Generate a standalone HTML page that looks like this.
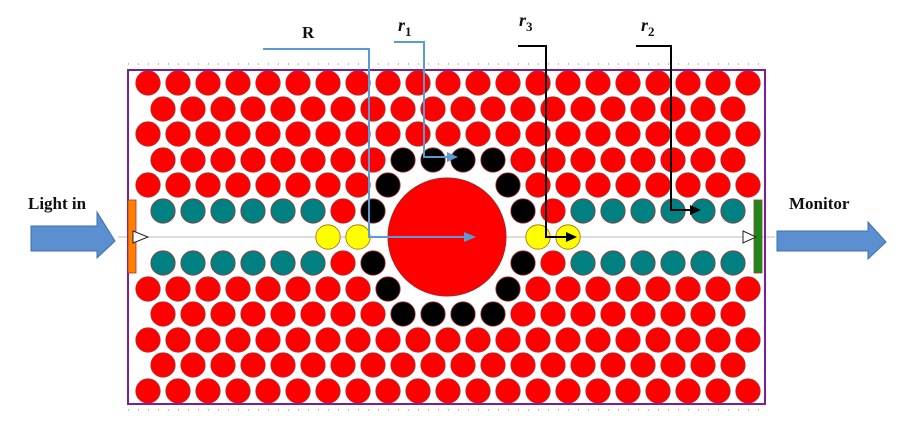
<!DOCTYPE html>
<html><head><meta charset="utf-8"><style>
html,body{margin:0;padding:0;background:#fff;width:900px;height:426px;overflow:hidden}
svg{display:block}
.t{font-family:"Liberation Serif",serif;font-weight:bold;fill:#111}
</style></head><body>
<svg id="s" width="900" height="426" viewBox="0 0 900 426" xmlns="http://www.w3.org/2000/svg">
<line x1="128" y1="64" x2="766" y2="64" stroke="#999" stroke-width="1.2" stroke-dasharray="1 9"/>
<line x1="128" y1="410" x2="766" y2="410" stroke="#999" stroke-width="1.2" stroke-dasharray="1 9"/>
<line x1="118" y1="237" x2="775" y2="237" stroke="#bbb" stroke-width="1"/>
<g id="c"></g>
<circle cx="447" cy="237" r="59" fill="#ff0000" stroke="#a22" stroke-width="1"/>
<rect x="128" y="70" width="637" height="334" fill="none" stroke="#7a1f9a" stroke-width="2"/>
<rect x="128" y="200" width="8" height="73" fill="#ff7f00" stroke="#a33" stroke-width="0.8"/>
<rect x="754" y="200" width="8" height="73" fill="#1a8a1a" stroke="#a33" stroke-width="0.8"/>
<polygon points="133,231 148,237 133,243" fill="#fff" stroke="#222" stroke-width="1"/>
<polygon points="743,231 756,237 743,243" fill="#fff" stroke="#222" stroke-width="1"/>
<polygon points="31,226 97,226 97,212 115,241 97,258 97,251 31,251" fill="#5b8fd0" stroke="#3d6fa8" stroke-width="1"/>
<polygon points="777,231 868,231 868,222 886,242 868,259 868,251 777,251" fill="#5b8fd0" stroke="#3d6fa8" stroke-width="1"/>
<text class="t" x="28" y="209" font-size="17">Light in</text>
<text class="t" x="789" y="209" font-size="17">Monitor</text>
<polyline points="263,49 369,49 369,237 468,237" fill="none" stroke="#5b9bd5" stroke-width="2"/>
<polygon points="476,237 464,232 464,242" fill="#5b9bd5"/>
<polyline points="394,42 424,42 424,157 450,157" fill="none" stroke="#5b9bd5" stroke-width="2"/>
<polygon points="458,157 447,152 447,162" fill="#5b9bd5"/>
<polyline points="518,46 546,46 546,237 568,237" fill="none" stroke="#000" stroke-width="2"/>
<polygon points="577,237 566,232 566,242" fill="#000"/>
<polyline points="636,46 671,46 671,210 692,210" fill="none" stroke="#000" stroke-width="2"/>
<polygon points="701,210 690,205 690,215" fill="#000"/>
<text class="t" x="302" y="38" font-size="17">R</text>
<text class="t" x="398" y="31" font-size="18" font-style="italic">r<tspan font-size="13" dy="5" font-style="normal">1</tspan></text>
<text class="t" x="519" y="26" font-size="18" font-style="italic">r<tspan font-size="13" dy="5" font-style="normal">3</tspan></text>
<text class="t" x="641" y="31" font-size="18" font-style="italic">r<tspan font-size="13" dy="5" font-style="normal">2</tspan></text>
</svg>
<script>
var g=document.getElementById('c');
var ys=[83,109,134,160,185,211,237,263,289,314,340,365,391];
var s='';
ys.forEach(function(y,i){
 var off=i%2==1, n=off?20:21, x0=off?163:148, d=Math.abs(i-6);
 for(var k=0;k<n;k++){
  var col='#ff0000';
  if(d==0){ if(k==6||k==7||k==13||k==14) col='#ffff00'; else continue; }
  if(d==1){ if(k>=8&&k<=11) continue; if(k<=5||k>=14) col='#008080'; if(k==7||k==12) col='#000'; }
  if(d==2){ if(k>=9&&k<=11) continue; if(k==8||k==12) col='#000'; }
  if(d==3){ if(k>=8&&k<=11) col='#000'; }
  s+='<circle cx="'+(x0+30*k)+'" cy="'+y+'" r="12.2" fill="'+col+'" stroke="'+(col=='#ffff00'?'#a60':'#a33')+'" stroke-width="0.8"/>';
 }
});
g.innerHTML=s;
</script>
</body></html>
